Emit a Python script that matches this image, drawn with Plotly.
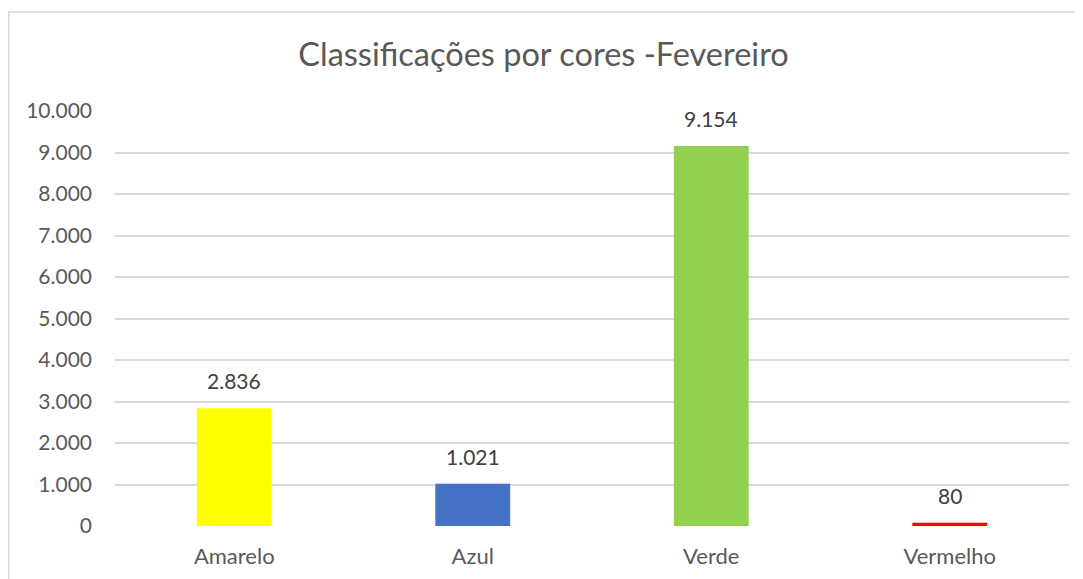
import plotly.graph_objects as go

categories = ["Amarelo", "Azul", "Verde", "Vermelho"]
values = [2836, 1021, 9154, 80]
colors = ["#FFFF00", "#4472C4", "#92D050", "#FF0000"]
tick_vals = [0, 1000, 2000, 3000, 4000, 5000, 6000, 7000, 8000, 9000, 10000]
tick_text = ["0", "1.000", "2.000", "3.000", "4.000", "5.000", "6.000", "7.000", "8.000", "9.000", "10.000"]
label_text = ["2.836", "1.021", "9.154", "80"]

FONT = "Lato"

# the page body has an 8px margin, so figure coords = window coords - 8
L, R, T, B = 107, 22, 103, 61
W, H = 1083, 579
pw = W - L - R
ph = H - T - B

fig = go.Figure()
fig.add_trace(go.Bar(
    x=categories, y=values, marker=dict(color=colors, line=dict(width=0)),
    width=0.314, hoverinfo="skip",
))

for c, v, t in zip(categories, values, label_text):
    fig.add_annotation(x=c, y=v, text=t, showarrow=False, yanchor="bottom",
                       yshift=13, font=dict(family=FONT, size=21, color="#404040"))

# chart-area border (only left and top edges visible in the crop)
fig.add_shape(type="rect", xref="paper", yref="paper",
              x0=(0.75 - L) / pw, x1=(W + 40 - L) / pw,
              y0=-0.5, y1=(H - B - 4) / ph,
              line=dict(color="#D9D9D9", width=1.5), layer="below")

fig.update_layout(
    width=W, height=H,
    margin=dict(l=L, r=R, t=T, b=B),
    paper_bgcolor="white", plot_bgcolor="white",
    showlegend=False,
    title=dict(text="Classificações por cores -Fevereiro", x=535.5 / W, xanchor="center",
               y=1 - 47 / H, yanchor="middle",
               font=dict(family=FONT, size=32.5, color="#595959")),
    xaxis=dict(showgrid=False, showline=False, ticks="", ticklabelstandoff=15,
               tickfont=dict(family=FONT, size=22, color="#595959")),
    yaxis=dict(range=[0, 10000], tickvals=tick_vals, ticktext=tick_text,
               showgrid=True, gridcolor="#D9D9D9", gridwidth=1.5,
               zeroline=False, showline=False, ticks="", ticklabelstandoff=22,
               tickfont=dict(family=FONT, size=21, color="#595959")),
)

fig.write_html("out.html")
